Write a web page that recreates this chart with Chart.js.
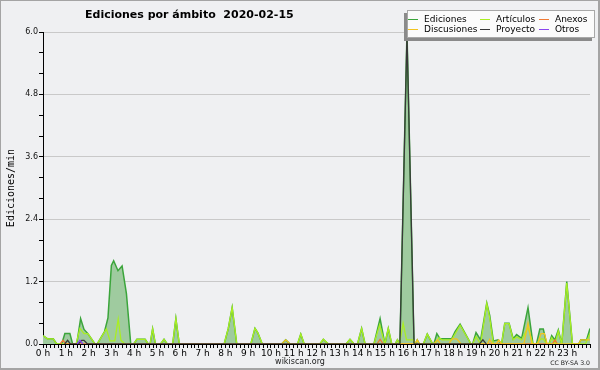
<!DOCTYPE html>
<html>
<head>
<meta charset="utf-8">
<script src="https://cdn.jsdelivr.net/npm/chart.js@4.4.1/dist/chart.umd.min.js"></script>
<style>
html, body { margin: 0; padding: 0; background: #eff0f2; }
#wrap { width: 600px; height: 370px; }
</style>
</head>
<body>
<div id="wrap"><canvas id="edChart" width="600" height="370"></canvas></div>
<script>
// valeurs : [heure, ediciones/min]
var seriesNames = ['Ediciones', 'Artículos', 'Anexos', 'Discusiones', 'Proyecto', 'Otros'];
var hourLabels = ['0 h', '1 h', '2 h', '3 h', '4 h', '5 h', '6 h', '7 h', '8 h', '9 h', '10 h', '11 h',
                  '12 h', '13 h', '14 h', '15 h', '16 h', '17 h', '18 h', '19 h', '20 h', '21 h', '22 h', '23 h'];

var ediciones = [
  [0, 0.16], [0.2, 0.1], [0.45, 0.1], [0.6, 0], [0.82, 0], [0.96, 0.2], [1.18, 0.2], [1.3, 0],
  [1.48, 0], [1.65, 0.49], [1.8, 0.28], [1.97, 0.2], [2.28, 0], [2.38, 0], [2.7, 0.24], [2.85, 0.5],
  [3.0, 1.51], [3.1, 1.6], [3.29, 1.41], [3.47, 1.5], [3.66, 0.97], [3.85, 0],
  [3.98, 0], [4.12, 0.09], [4.48, 0.09], [4.62, 0], [4.7, 0], [4.81, 0.29], [4.93, 0],
  [5.16, 0], [5.31, 0.09], [5.45, 0], [5.69, 0], [5.83, 0.49], [5.98, 0],
  [7.95, 0], [8.13, 0.3], [8.3, 0.7], [8.5, 0], [9.12, 0], [9.3, 0.3], [9.42, 0.22], [9.62, 0],
  [10.47, 0], [10.65, 0.08], [10.84, 0], [11.17, 0], [11.31, 0.19], [11.46, 0],
  [12.15, 0], [12.3, 0.09], [12.52, 0], [13.3, 0], [13.47, 0.09], [13.65, 0],
  [13.8, 0], [13.98, 0.3], [14.13, 0], [14.52, 0], [14.79, 0.49], [15.0, 0], [15.15, 0.3], [15.3, 0],
  [15.45, 0], [15.55, 0.08], [15.66, 0], [15.97, 6.0], [16.28, 0], [16.34, 0], [16.42, 0.08], [16.52, 0],
  [16.69, 0], [16.86, 0.19], [17.1, 0], [17.15, 0], [17.28, 0.2], [17.42, 0.1], [17.93, 0.1],
  [18.08, 0.24], [18.3, 0.38], [18.78, 0], [18.85, 0], [19.0, 0.22], [19.2, 0.08], [19.47, 0.79],
  [19.6, 0.55], [19.76, 0.06], [19.97, 0.08], [20.12, 0], [20.26, 0.4], [20.45, 0.4], [20.63, 0.1],
  [20.78, 0.18], [21.0, 0.11], [21.28, 0.7], [21.5, 0], [21.65, 0], [21.8, 0.29], [21.95, 0.29],
  [22.1, 0], [22.2, 0], [22.32, 0.16], [22.46, 0.08], [22.61, 0.27], [22.76, 0], [22.98, 1.2],
  [23.23, 0], [23.5, 0], [23.6, 0.08], [23.85, 0.08], [24, 0.3]
];

var articulos = [
  [0, 0.16], [0.2, 0.1], [0.45, 0.1], [0.6, 0], [1.45, 0], [1.62, 0.3], [1.8, 0.2], [1.97, 0.2], [2.28, 0],
  [2.38, 0], [2.78, 0.29], [2.94, 0.06], [3.15, 0.06], [3.3, 0.48], [3.42, 0.07], [3.6, 0],
  [3.98, 0], [4.12, 0.09], [4.48, 0.09], [4.62, 0], [4.7, 0], [4.81, 0.29], [4.93, 0],
  [5.16, 0], [5.31, 0.09], [5.45, 0], [5.69, 0], [5.83, 0.49], [5.98, 0],
  [7.95, 0], [8.13, 0.3], [8.3, 0.7], [8.5, 0], [9.12, 0], [9.3, 0.3], [9.42, 0.22], [9.62, 0],
  [11.17, 0], [11.31, 0.19], [11.46, 0], [12.15, 0], [12.3, 0.09], [12.52, 0],
  [13.3, 0], [13.47, 0.09], [13.65, 0], [13.8, 0], [13.98, 0.3], [14.13, 0],
  [14.52, 0], [14.77, 0.37], [15.0, 0], [15.15, 0.3], [15.3, 0], [15.45, 0], [15.55, 0.08], [15.64, 0],
  [15.8, 0.4], [15.95, 0.08], [16.25, 0.08], [16.35, 0],
  [16.69, 0], [16.86, 0.19], [17.1, 0], [17.2, 0], [17.38, 0.12], [17.5, 0.08], [17.93, 0.08],
  [18.3, 0.36], [18.78, 0], [18.85, 0], [19.0, 0.14], [19.2, 0], [19.47, 0.78], [19.6, 0.5], [19.76, 0],
  [20.12, 0], [20.26, 0.39], [20.45, 0.39], [20.63, 0.08], [20.78, 0.14], [21.0, 0.08], [21.28, 0.32],
  [21.5, 0], [21.65, 0], [21.85, 0.1], [21.95, 0.1], [22.1, 0], [22.2, 0], [22.32, 0.12], [22.46, 0],
  [22.61, 0.25], [22.76, 0], [22.98, 1.17], [23.23, 0], [23.8, 0], [24, 0.2]
];

var anexos = [
  [0.75, 0], [0.88, 0.07], [1.0, 0], [14.65, 0], [14.79, 0.09], [14.93, 0],
  [22.35, 0], [22.46, 0.08], [22.57, 0]
];

var discusiones = [
  [10.47, 0], [10.65, 0.08], [10.84, 0], [16.32, 0], [16.42, 0.08], [16.52, 0],
  [17.15, 0], [17.3, 0.08], [17.45, 0], [17.8, 0], [17.95, 0.1], [18.15, 0.1], [18.35, 0],
  [19.5, 0], [19.6, 0.09], [19.72, 0], [19.88, 0], [20.0, 0.08], [20.12, 0],
  [21.1, 0], [21.28, 0.4], [21.45, 0], [21.7, 0], [21.85, 0.2], [22.0, 0.2], [22.12, 0],
  [23.5, 0], [23.6, 0.08], [24, 0.08]
];

var proyecto = [
  [0.95, 0], [1.08, 0.07], [1.2, 0], [1.55, 0], [1.7, 0.07], [1.8, 0.07], [1.95, 0],
  [15.66, 0], [15.97, 5.95], [16.28, 0], [19.15, 0], [19.3, 0.08], [19.45, 0]
];

var otros = [
  [1.5, 0], [1.62, 0.07], [1.75, 0]
];

var seriesData = [ediciones, articulos, anexos, discusiones, proyecto, otros];
var lineColors = ['#3ba53b', '#aaee22', '#f07a35', '#f2c420', '#383838', '#8a46ee'];
var fillGreen = '#9fcb9f';

function isMajor(v) {
  return Math.abs(v / 1.2 - Math.round(v / 1.2)) < 1e-6;
}

// fond, titre, légende et crédits
var framePlugin = {
  id: 'frame',
  beforeDraw: function(chart) {
    var c = chart.ctx;
    c.save();
    c.fillStyle = '#eff0f2';
    c.fillRect(0, 0, chart.width, chart.height);
    c.restore();
  },
  afterDraw: function(chart) {
    var c = chart.ctx;
    c.save();
    c.fillStyle = '#000';
    c.textBaseline = 'alphabetic';
    c.textAlign = 'left';
    c.font = 'bold 11px "DejaVu Sans"';
    c.fillText('Ediciones por ámbito  2020-02-15', 85, 18);

    // légende
    c.fillStyle = '#8a8a8a';
    c.fillRect(404, 13, 188, 28);
    c.fillStyle = '#fbfbfb';
    c.fillRect(407, 10, 188, 28);
    c.strokeStyle = '#a8a8a8';
    c.lineWidth = 1;
    c.strokeRect(407.5, 10.5, 187, 27);
    c.font = '9px "DejaVu Sans"';
    c.textBaseline = 'middle';
    var colX = [408, 480, 539];
    var rowY = [19.5, 29.5];
    chart.data.datasets.forEach(function(ds, i) {
      var x = colX[i % 3], y = rowY[Math.floor(i / 3)];
      c.strokeStyle = ds.borderColor;
      c.beginPath();
      c.moveTo(x, y);
      c.lineTo(x + 10, y);
      c.stroke();
      c.fillStyle = '#000';
      c.fillText(ds.label, x + 16, y);
    });

    c.textBaseline = 'alphabetic';
    c.textAlign = 'center';
    c.font = '8px "DejaVu Sans"';
    c.fillStyle = '#222';
    c.fillText('wikiscan.org', 300, 364);
    c.textAlign = 'right';
    c.font = '6.2px "DejaVu Sans"';
    c.fillText('CC BY-SA 3.0', 590, 365);

    // cadre
    c.fillStyle = '#a4a4a4';
    c.fillRect(0, 0, chart.width, 1);
    c.fillRect(0, 0, 1, chart.height);
    c.fillRect(0, chart.height - 2, chart.width, 2);
    c.fillRect(chart.width - 2, 0, 2, chart.height);
    c.restore();
  }
};

var datasets = seriesData.map(function(pts, i) {
  return {
    label: seriesNames[i],
    data: pts,
    borderColor: lineColors[i],
    backgroundColor: i === 0 ? fillGreen : lineColors[i],
    fill: i === 0 ? 'origin' : false,
    borderWidth: i === 0 ? 1.5 : 1.3,
    order: i === 0 ? 10 : 6 - i
  };
});

var ctx = document.getElementById('edChart').getContext('2d');
var edChart = new Chart(ctx, {
  type: 'line',
  data: { datasets: datasets },
  options: {
    responsive: false,
    animation: false,
    devicePixelRatio: 1,
    elements: { point: { radius: 0 }, line: { tension: 0 } },
    layout: { padding: { top: 32, right: 10, left: 0, bottom: 0 } },
    plugins: {
      legend: { display: false },
      tooltip: { enabled: false },
      title: { display: false }
    },
    scales: {
      x: {
        type: 'linear',
        min: 0,
        max: 24,
        z: 1,
        afterFit: function(s) { s.height = 26; },
        border: { color: '#000', width: 1 },
        grid: { drawOnChartArea: false, drawTicks: true, tickLength: 4, tickColor: '#000' },
        ticks: {
          stepSize: 1 / 6,
          autoSkip: false,
          maxRotation: 0,
          padding: 0,
          color: '#000',
          font: { family: 'DejaVu Sans', size: 9 },
          callback: function(v) {
            var h = Math.round(v);
            return (Math.abs(v - h) < 1e-6 && h < 24) ? hourLabels[h] : '';
          }
        }
      },
      y: {
        min: 0,
        max: 6,
        afterFit: function(s) { s.width = 43; },
        border: { color: '#000', width: 1 },
        grid: {
          color: function(c) { return isMajor(c.tick.value) ? '#c9c9c9' : 'rgba(0,0,0,0)'; },
          tickColor: '#000',
          tickLength: 4
        },
        ticks: {
          stepSize: 0.4,
          autoSkip: false,
          padding: 1,
          color: '#111',
          font: { family: 'DejaVu Sans', size: 8 },
          callback: function(v) { return isMajor(v) ? v.toFixed(1) : ''; }
        },
        title: {
          display: true,
          text: 'Ediciones/min',
          color: '#000',
          font: { family: 'DejaVu Sans Mono', size: 10 },
          padding: { top: 5, bottom: 0 }
        }
      }
    }
  },
  plugins: [framePlugin]
});
</script>
</body>
</html>
